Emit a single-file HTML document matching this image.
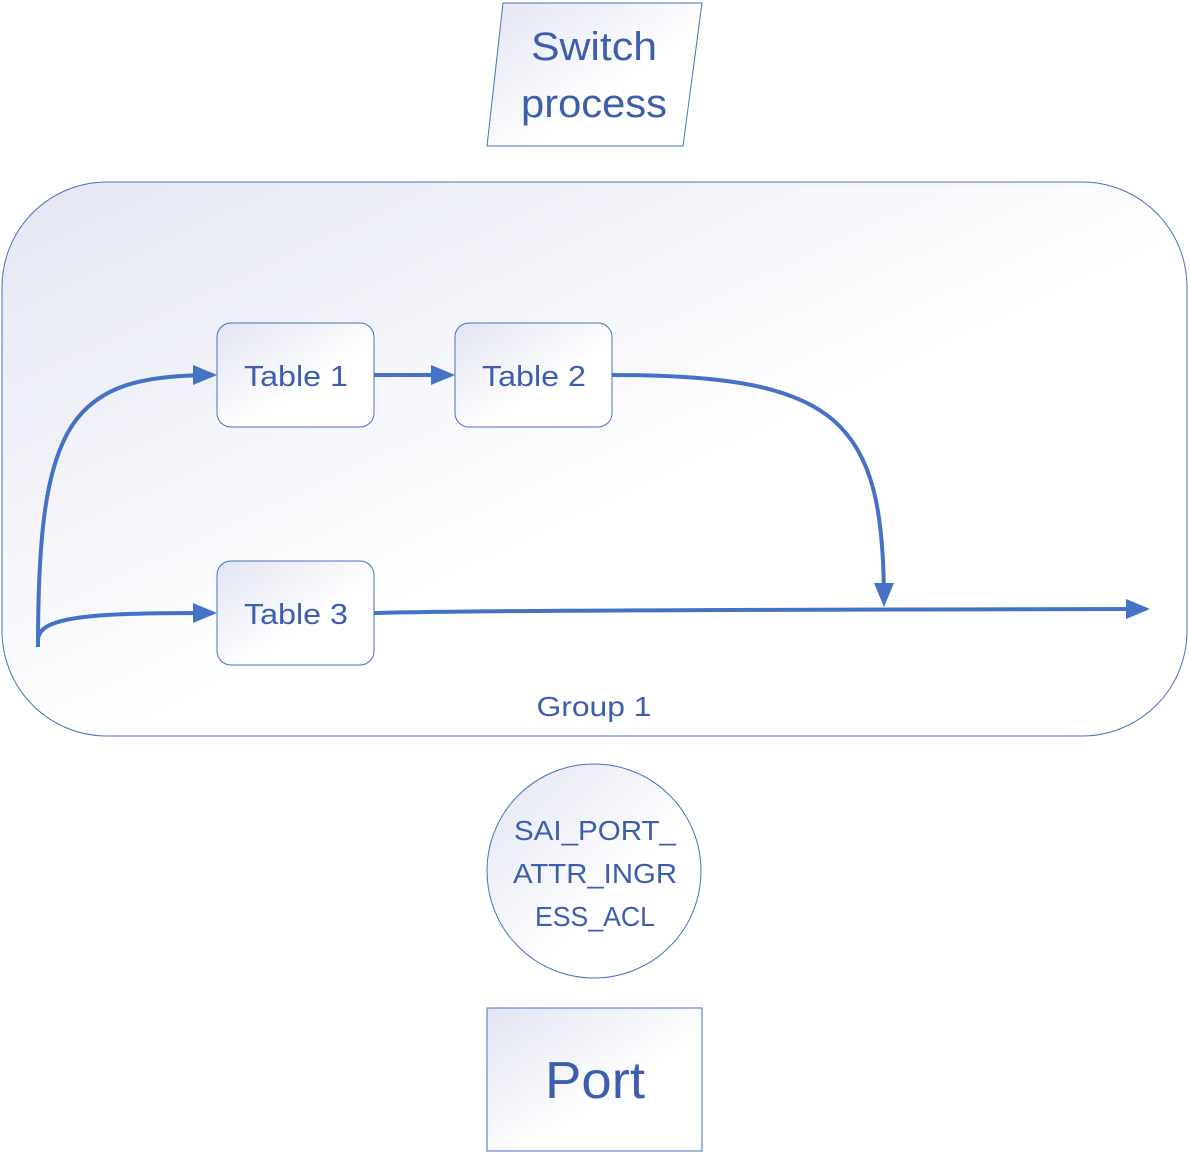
<!DOCTYPE html>
<html><head><meta charset="utf-8"><style>
html,body{margin:0;padding:0;background:#fff;}
svg{display:block;}
text{font-family:"Liberation Sans",sans-serif;fill:#3c5eac;}
</style></head><body>
<svg width="1189" height="1154" viewBox="0 0 1189 1154" xmlns="http://www.w3.org/2000/svg">
<defs>
<linearGradient id="g" x1="0" y1="0" x2="1" y2="1">
<stop offset="0" stop-color="#e4e6f3"/><stop offset="0.55" stop-color="#ffffff"/><stop offset="1" stop-color="#ffffff"/>
</linearGradient>
<linearGradient id="g2" x1="0" y1="0" x2="1" y2="1">
<stop offset="0" stop-color="#e2e4f2"/><stop offset="0.6" stop-color="#ffffff"/>
</linearGradient>
<marker id="a" markerWidth="6" markerHeight="5" refX="5" refY="2.5" orient="auto" markerUnits="strokeWidth">
<path d="M0,0 L6,2.5 L0,5 z" fill="#4472c4"/></marker>
</defs>
<polygon points="503,3 702,3 683,146 487,146" fill="url(#g2)" stroke="#4472c4" stroke-width="1"/>
<text x="594" y="60" font-size="40" text-anchor="middle" textLength="126" lengthAdjust="spacingAndGlyphs">Switch</text>
<text x="594" y="117" font-size="40" text-anchor="middle" textLength="146" lengthAdjust="spacingAndGlyphs">process</text>

<rect x="2" y="182" width="1185" height="554" rx="105" fill="url(#g)" stroke="#4472c4" stroke-width="1"/>

<rect x="217" y="323" width="157" height="104" rx="14" fill="url(#g2)" stroke="#4472c4"/>
<rect x="455" y="323" width="157" height="104" rx="14" fill="url(#g2)" stroke="#4472c4"/>
<rect x="217" y="561" width="157" height="104" rx="14" fill="url(#g2)" stroke="#4472c4"/>
<text x="296" y="386" font-size="29" text-anchor="middle" textLength="104" lengthAdjust="spacingAndGlyphs">Table 1</text>
<text x="534" y="386" font-size="29" text-anchor="middle" textLength="104" lengthAdjust="spacingAndGlyphs">Table 2</text>
<text x="296" y="624" font-size="29" text-anchor="middle" textLength="104" lengthAdjust="spacingAndGlyphs">Table 3</text>

<g fill="none" stroke="#4472c4" stroke-width="4">
<path d="M38,647 C38,420 70,375 213,375" marker-end="url(#a)"/>
<path d="M38,640 C38,615 100,613 213,613" marker-end="url(#a)"/>
<path d="M374,375 L451,375" marker-end="url(#a)"/>
<path d="M612,375 C840,375 884,420 884,603" marker-end="url(#a)"/>
<path d="M374,613 C400,613 380,610 1146,609" marker-end="url(#a)"/>
</g>

<text x="594" y="716" font-size="28" text-anchor="middle" textLength="115" lengthAdjust="spacingAndGlyphs">Group 1</text>

<circle cx="594" cy="871" r="107" fill="url(#g2)" stroke="#4472c4"/>
<text x="595" y="840" font-size="28" text-anchor="middle" textLength="162" lengthAdjust="spacingAndGlyphs">SAI_PORT_</text>
<text x="595" y="883" font-size="28" text-anchor="middle" textLength="164" lengthAdjust="spacingAndGlyphs">ATTR_INGR</text>
<text x="595" y="926" font-size="28" text-anchor="middle" textLength="120" lengthAdjust="spacingAndGlyphs">ESS_ACL</text>

<rect x="487" y="1008" width="215" height="143" fill="url(#g2)" stroke="#4472c4"/>
<text x="595" y="1098" font-size="52" text-anchor="middle" textLength="100" lengthAdjust="spacingAndGlyphs">Port</text>
</svg>
</body></html>
